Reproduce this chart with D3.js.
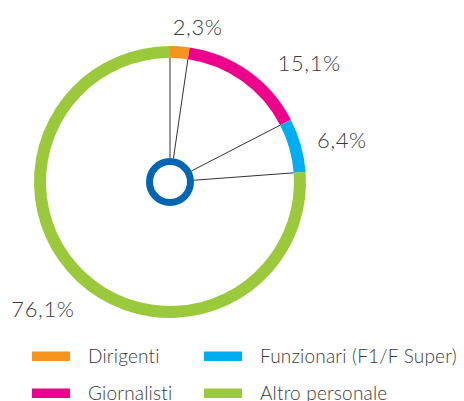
<!DOCTYPE html>
<html>
<head>
<meta charset="utf-8">
<script src="https://cdn.jsdelivr.net/npm/d3@7"></script>
<style>
  body { margin: 0; background: #fff; }
  text { font-family: "Lato", "Open Sans", sans-serif; font-weight: 300; fill: #3a3a3a; }
</style>
</head>
<body>
<div id="chart"></div>
<script>
// data
var categories = ["Dirigenti", "Giornalisti", "Funzionari (F1/F Super)", "Altro personale"];
var shares = [2.3, 15.1, 6.4, 76.1];
var shareLabels = ["2,3%", "15,1%", "6,4%", "76,1%"];
var colors = ["#F7941D", "#EC008C", "#00AEEF", "#9ACA3C"];
// legend order as drawn, row by row in two columns
var legendOrder = [0, 2, 1, 3];

var width = 464, height = 401;
var cx = 170, cy = 182;
var outerR = 136, innerR = 124, hubR = 24;

var svg = d3.select("#chart").append("svg")
    .attr("width", width)
    .attr("height", height);

var g = svg.append("g").attr("transform", "translate(" + cx + "," + cy + ")");

var pie = d3.pie().sort(null).value(function(d) { return d; });
var arcs = pie(shares);

var arc = d3.arc().innerRadius(innerR).outerRadius(outerR);

g.selectAll(".slice").data(arcs).enter().append("path")
    .attr("class", "slice")
    .attr("d", arc)
    .attr("fill", function(d, i) { return colors[i]; });

// spokes from the hub to every slice boundary
g.selectAll(".spoke").data(arcs).enter().append("line")
    .attr("class", "spoke")
    .attr("x1", function(d) { return Math.sin(d.startAngle) * hubR; })
    .attr("y1", function(d) { return -Math.cos(d.startAngle) * hubR; })
    .attr("x2", function(d) { return Math.sin(d.startAngle) * innerR; })
    .attr("y2", function(d) { return -Math.cos(d.startAngle) * innerR; })
    .attr("stroke", "#333")
    .attr("stroke-width", 1);

// hub ring
g.append("circle")
    .attr("r", hubR - 3.5)
    .attr("fill", "#fff")
    .attr("stroke", "#0066B3")
    .attr("stroke-width", 7);

// percentage labels, nudged a little off the slice middle like the original
var labelNudge = [6, 14, 2, 2];      // degrees
var labelRadius = [157, 183, 177, 180];
g.selectAll(".pct").data(arcs).enter().append("text")
    .attr("class", "pct")
    .attr("x", function(d, i) {
      var a = (d.startAngle + d.endAngle) / 2 + labelNudge[i] * Math.PI / 180;
      return Math.sin(a) * labelRadius[i];
    })
    .attr("y", function(d, i) {
      var a = (d.startAngle + d.endAngle) / 2 + labelNudge[i] * Math.PI / 180;
      return -Math.cos(a) * labelRadius[i];
    })
    .attr("dy", "0.35em")
    .attr("text-anchor", "middle")
    .style("font-size", "22px")
    .style("letter-spacing", "0.6px")
    .text(function(d, i) { return shareLabels[i]; });

// legend
var legend = svg.append("g").attr("class", "legend");
var item = legend.selectAll(".item").data(legendOrder).enter().append("g")
    .attr("class", "item")
    .attr("transform", function(d, k) {
      var col = k % 2, row = Math.floor(k / 2);
      return "translate(" + (32 + col * 172) + "," + (356 + row * 37) + ")";
    });

item.append("rect")
    .attr("x", 0).attr("y", -4.5)
    .attr("width", 38).attr("height", 9.5)
    .attr("fill", function(d) { return colors[d]; });

item.append("text")
    .attr("x", 56)
    .attr("y", 6.5)
    .style("font-size", "19px")
    .style("letter-spacing", "0.2px")
    .text(function(d) { return categories[d]; });
</script>
</body>
</html>
